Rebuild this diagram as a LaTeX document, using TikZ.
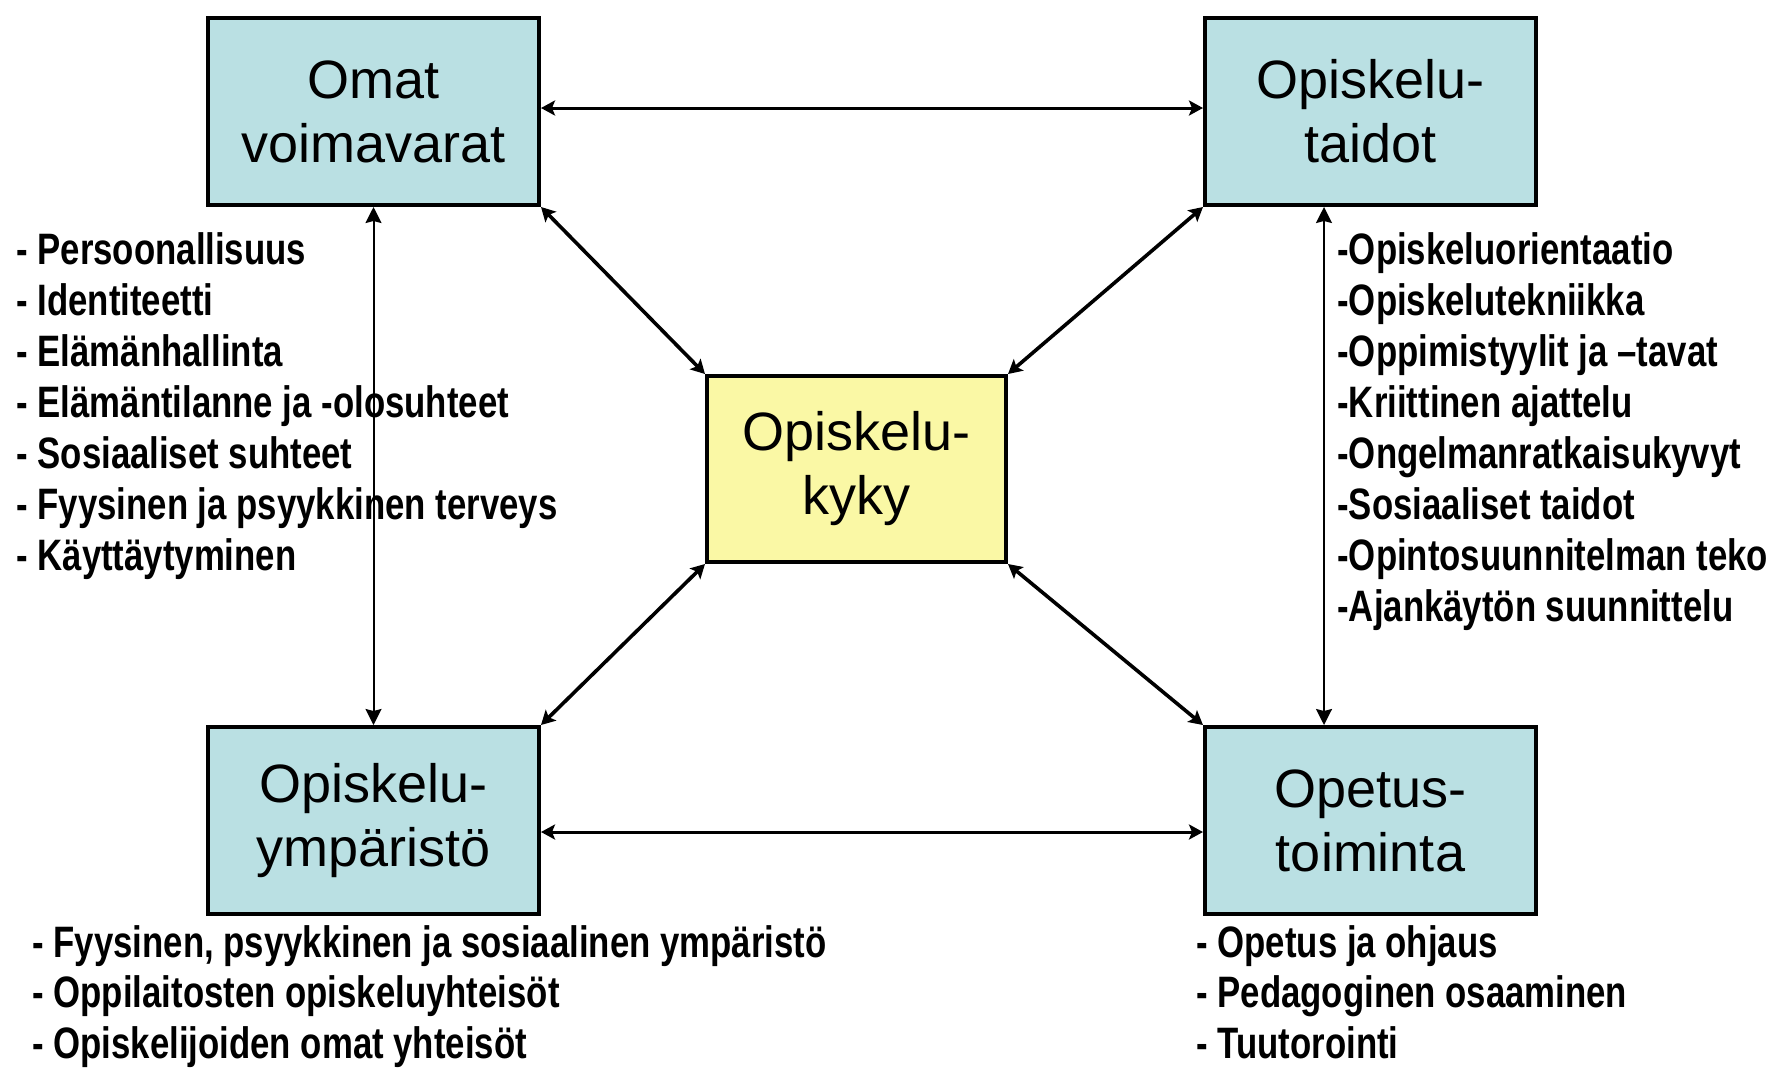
\documentclass[tikz,border=0pt]{standalone}
\usepackage{fontspec}
\setmainfont{Liberation Sans}
\newfontfamily\narrowfont{Liberation Sans}[FakeStretch=0.79]
\usetikzlibrary{arrows.meta}
\definecolor{boxblue}{RGB}{186,224,227}
\definecolor{boxyellow}{RGB}{250,248,165}
\begin{document}
\begin{tikzpicture}[x=0.5pt,y=-0.5pt,
  bluebox/.style={draw=black,line width=2pt,fill=boxblue,minimum width=165.5pt,minimum height=93.5pt,align=center,font=\fontsize{27}{32}\selectfont,inner sep=0pt},
  yellowbox/.style={bluebox,fill=boxyellow,minimum width=149.5pt,minimum height=93pt},
  biarrow/.style={{Stealth[length=7pt,width=7.5pt,inset=1.5pt]}-{Stealth[length=7pt,width=7.5pt,inset=1.5pt]},line width=1.5pt},
  diagarrow/.style={biarrow,line width=1.8pt},
  thinarrow/.style={{Stealth[length=8pt,width=8pt,inset=1pt]}-{Stealth[length=8pt,width=8pt,inset=1pt]},line width=1pt},
  listtxt/.style={font=\narrowfont\bfseries\fontsize{22}{26}\selectfont,inner sep=0pt,anchor=base west}
]
\useasboundingbox (0,0) rectangle (1777,1067);
\fill[white] (0,0) rectangle (1777,1067);

\node[bluebox] (ov) at (373.5,111.5) {Omat\\voimavarat};
\node[bluebox] (ot) at (1370.5,111.5) {Opiskelu-\\taidot};
\node[bluebox] (oy) at (373.5,820.5) {Opiskelu-\\ympäristö};
\node[bluebox] (op) at (1370.5,820.5) {Opetus-\\toiminta};
\node[yellowbox] (ok) at (856.5,469) {Opiskelu-\\kyky};

\coordinate (ty) at (0,108);
\coordinate (by) at (0,832);
\coordinate (rx) at (1324,0);

\draw[biarrow] (ov.east |- ty) -- (ot.west |- ty);
\draw[biarrow] (oy.east |- by) -- (op.west |- by);
\draw[thinarrow] (ov.south) -- (oy.north);
\draw[thinarrow] (ot.south -| rx) -- (op.north -| rx);
\draw[diagarrow] (ov.south east) -- (ok.north west);
\draw[diagarrow] (ot.south west) -- (ok.north east);
\draw[diagarrow] (oy.north east) -- (ok.south west);
\draw[diagarrow] (op.north west) -- (ok.south east);

\foreach \t [count=\i] in {- Persoonallisuus,- Identiteetti,- Elämänhallinta,- Elämäntilanne ja -olosuhteet,- Sosiaaliset suhteet,- Fyysinen ja psyykkinen terveys,- Käyttäytyminen}
  \node[listtxt] (l\i) at (16,{264+(\i-1)*51}) {\t};

\foreach \t [count=\i] in {-Opiskeluorientaatio,-Opiskelutekniikka,-Oppimistyylit ja –tavat,-Kriittinen ajattelu,-Ongelmanratkaisukyvyt,-Sosiaaliset taidot,-Opintosuunnitelman teko,-Ajankäytön suunnittelu}
  \node[listtxt] (r\i) at (1337,{264+(\i-1)*51}) {\t};

\foreach \t [count=\i] in {{- Fyysinen, psyykkinen ja sosiaalinen ympäristö},- Oppilaitosten opiskeluyhteisöt,- Opiskelijoiden omat yhteisöt}
  \node[listtxt] (bl\i) at (32,{957+(\i-1)*50.5}) {\t};

\foreach \t [count=\i] in {- Opetus ja ohjaus,- Pedagoginen osaaminen,- Tuutorointi}
  \node[listtxt] (br\i) at (1196,{957+(\i-1)*50.5}) {\t};
\end{tikzpicture}
\end{document}
